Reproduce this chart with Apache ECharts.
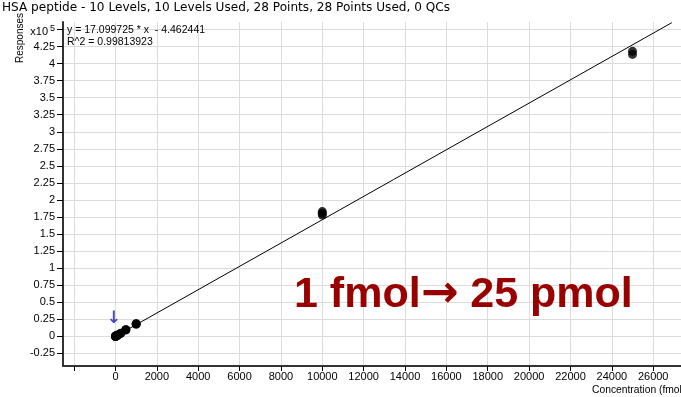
<!DOCTYPE html>
<html><head><meta charset="utf-8">
<script src="https://cdn.jsdelivr.net/npm/echarts@6/dist/echarts.min.js"></script>
<style>html,body{margin:0;padding:0;background:#fff}#c{width:681px;height:397px}</style>
</head><body><div id="c"></div>
<script>
const chartTitle = 'HSA peptide - 10 Levels, 10 Levels Used, 28 Points, 28 Points Used, 0 QCs';
const equationLines = ['y = 17.099725 * x  - 4.462441', 'R^2 = 0.99813923'];
const overlayParts = ['1 fmol', '\u2192', ' 25 pmol'];
const xAxisName = 'Concentration (fmol)';
const yAxisName = 'Responses';
const yExponentLabel = ['x10', '5'];

const xTickValues = [-2000, 0, 2000, 4000, 6000, 8000, 10000, 12000, 14000, 16000, 18000, 20000, 22000, 24000, 26000];
const xLabelValues = [0, 2000, 4000, 6000, 8000, 10000, 12000, 14000, 16000, 18000, 20000, 22000, 24000, 26000];
const yTickValues = [-25000, 0, 25000, 50000, 75000, 100000, 125000, 150000, 175000, 200000, 225000, 250000, 275000, 300000, 325000, 350000, 375000, 400000, 425000, 450000];

const concentrations = [1, 1, 1, 5, 5, 5, 10, 10, 10, 50, 50, 50, 100, 100, 100, 250, 250, 500, 500, 500, 1000, 1000, 1000, 10000, 10000, 10000, 25000, 25000];
const responses = [20, 25, 30, 90, 100, 95, 180, 190, 200, 850, 880, 900, 1700, 1750, 1800, 4300, 4500, 9400, 9700, 9600, 17800, 18300, 18600, 178000, 180500, 183000, 413500, 418000];

const fitX = [0, 26900];
const fitY = [-4.46, 460000];

const arrowMark = [-80, 25500];

const chart = echarts.init(document.getElementById('c'));
const F = '"Liberation Sans", Arial, sans-serif';
const D = '"DejaVu Sans", sans-serif';

chart.setOption({
  animation: false,
  backgroundColor: '#fff',
  title: [
    { text: chartTitle, left: 2, top: 2, padding: 0,
      textStyle: { fontFamily: D, fontSize: 12.1, fontWeight: 'normal', color: '#000' } },
    { text: equationLines.join('\n'), left: 67, top: 24, padding: 0,
      textStyle: { fontFamily: F, fontSize: 10.5, fontWeight: 'normal', color: '#000', lineHeight: 12 } },
    { text: '{t|' + overlayParts[0] + '}{a|' + overlayParts[1] + '}{t|' + overlayParts[2] + '}', left: 294, top: 273, padding: 0,
      textStyle: { rich: {
        t: { fontFamily: F, fontSize: 43, fontWeight: 'bold', color: '#990000' },
        a: { fontFamily: D, fontSize: 45, fontWeight: 'bold', color: '#990000' }
      } } }
  ],
  graphic: [
    { type: 'text', x: 20, y: 38, rotation: Math.PI / 2,
      style: { text: yAxisName, font: '10px ' + F, fill: '#000', align: 'center', verticalAlign: 'middle', textAlign: 'center', textVerticalAlign: 'middle' } },
    { type: 'text', x: 592, y: 390,
      style: { text: xAxisName, font: '10.3px ' + F, fill: '#000', align: 'left', verticalAlign: 'middle', textAlign: 'left', textVerticalAlign: 'middle' } }
  ],
  grid: { left: 63, right: 0, top: 22, bottom: 31, containLabel: false },
  xAxis: {
    type: 'value', min: -2539, max: 27345,
    axisLine: { show: true, onZero: false, lineStyle: { color: '#333', width: 2 } },
    axisTick: { show: true, length: 5, customValues: xTickValues, lineStyle: { color: '#000', width: 1 } },
    axisLabel: { customValues: xLabelValues, margin: 5, fontFamily: F, fontSize: 11, color: '#000',
      formatter: function (v) { return String(v); } },
    splitLine: { show: true, lineStyle: { color: '#dcdcdc', width: 1 } }
  },
  yAxis: {
    type: 'value', min: -43500, max: 461000,
    axisLine: { show: true, onZero: false, lineStyle: { color: '#333', width: 2 } },
    axisTick: { show: true, length: 6, customValues: yTickValues, lineStyle: { color: '#000', width: 1 } },
    axisLabel: { customValues: yTickValues, margin: 8, fontFamily: F, fontSize: 11, color: '#000',
      formatter: function (v) {
        if (v === 450000) return '{a|' + yExponentLabel[0] + '}{s|' + yExponentLabel[1] + '}';
        return String(+(v / 1e5).toFixed(2));
      },
      rich: {
        a: { fontFamily: F, fontSize: 11, color: '#000', padding: [5, 0, 0, 0] },
        s: { fontFamily: F, fontSize: 9, color: '#000', padding: [0, 0, 2, 2] }
      }
    },
    splitLine: { show: true, lineStyle: { color: '#dcdcdc', width: 1 } }
  },
  series: [
    { type: 'line', data: fitX.map((x, i) => [x, fitY[i]]), symbol: 'none', clip: true,
      lineStyle: { color: '#000', width: 1 }, z: 2 },
    { type: 'scatter', data: concentrations.map((x, i) => [x, responses[i]]), symbol: 'circle', symbolSize: 9,
      itemStyle: { color: '#000' }, z: 3 },
    { type: 'scatter', data: [arrowMark], symbolSize: 0, silent: true, z: 4,
      label: { show: true, position: 'inside', formatter: '\u2193', fontFamily: D, fontSize: 17, fontWeight: 'bold', color: '#1c1cb0' } }
  ]
});
</script></body></html>
